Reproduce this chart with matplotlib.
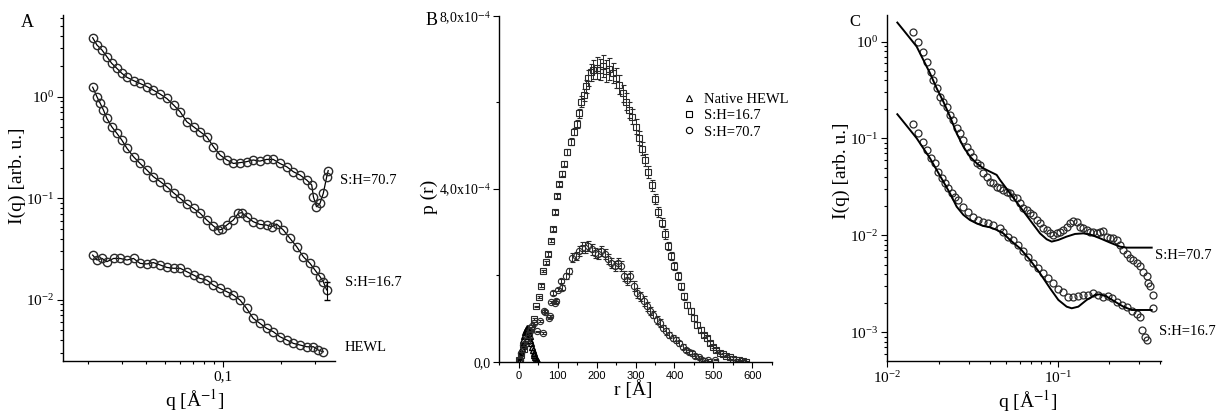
import numpy as np
import matplotlib
matplotlib.use('Agg')
import matplotlib.pyplot as plt
from matplotlib.ticker import (FixedLocator, FixedFormatter, LogLocator,
                               NullFormatter, MultipleLocator)
from matplotlib.lines import Line2D

plt.rcParams['font.family'] = ['Liberation Serif', 'DejaVu Serif']
plt.rcParams['mathtext.fontset'] = 'stix'

# ---- panel A : SAXS curves (q in 1/A, I in arb. u.)
qa_707 = [0.0211, 0.0222, 0.0236, 0.0250, 0.0265, 0.0282, 0.0299, 0.0318, 0.0344, 0.0372,
          0.0403, 0.0436, 0.0473, 0.0512, 0.0555, 0.0601, 0.0650, 0.0705, 0.0763, 0.0826,
          0.0895, 0.0969, 0.105, 0.1136, 0.123, 0.133, 0.144, 0.156, 0.169, 0.183,
          0.198, 0.215, 0.233, 0.252, 0.273, 0.290, 0.296, 0.307, 0.320, 0.333, 0.347, 0.353]
ia_707 = [3.81, 3.23, 2.88, 2.48, 2.13, 1.90, 1.70, 1.55, 1.44, 1.35,
          1.26, 1.16, 1.06, 0.96, 0.83, 0.71, 0.567, 0.506, 0.452, 0.403,
          0.322, 0.266, 0.238, 0.220, 0.224, 0.229, 0.238, 0.232, 0.241, 0.241,
          0.220, 0.204, 0.182, 0.169, 0.151, 0.135, 0.103, 0.0824, 0.0889, 0.1116, 0.163, 0.187]

qa_167 = [0.0211, 0.0222, 0.0231, 0.0240, 0.0250, 0.0265, 0.0282, 0.0299, 0.0318, 0.0344,
          0.0372, 0.0403, 0.0436, 0.0473, 0.0512, 0.0555, 0.0601, 0.0650, 0.0705, 0.0763,
          0.0826, 0.0895, 0.0950, 0.0988, 0.105, 0.1136, 0.1206, 0.1255, 0.133, 0.144,
          0.156, 0.169, 0.1796, 0.1906, 0.2065, 0.2236, 0.2422, 0.2623, 0.2841, 0.3015,
          0.3200, 0.3331, 0.3466]
ia_167 = [1.24, 1.00, 0.86, 0.739, 0.612, 0.506, 0.435, 0.374, 0.310, 0.256,
          0.220, 0.190, 0.163, 0.146, 0.130, 0.113, 0.0996, 0.0877, 0.0794, 0.0710,
          0.0610, 0.0532, 0.0486, 0.0493, 0.0544, 0.0610, 0.0710, 0.0720, 0.0658, 0.0587,
          0.0552, 0.0544, 0.0524, 0.0556, 0.0486, 0.0402, 0.0333, 0.0265, 0.0228, 0.0196,
          0.0169, 0.0150, 0.0125]
ia_167_last_err = 0.0025

qa_hewl = [0.0211, 0.0222, 0.0236, 0.0250, 0.0271, 0.0293, 0.0318, 0.0344, 0.0372, 0.0403,
           0.0436, 0.0473, 0.0512, 0.0555, 0.0601, 0.0650, 0.0705, 0.0763, 0.0826, 0.0895,
           0.0969, 0.105, 0.1136, 0.123, 0.133, 0.144, 0.156, 0.169, 0.183, 0.198,
           0.215, 0.233, 0.252, 0.273, 0.296, 0.314, 0.333]
ia_hewl = [0.0275, 0.0246, 0.0255, 0.0237, 0.0255, 0.0255, 0.0246, 0.0255, 0.0228, 0.0225,
           0.0232, 0.0220, 0.0208, 0.0204, 0.0204, 0.0189, 0.0175, 0.0162, 0.0156, 0.0139,
           0.0129, 0.0120, 0.0111, 0.00993, 0.00822, 0.00655, 0.00585, 0.00522, 0.00484, 0.00432,
           0.00401, 0.00371, 0.00358, 0.00344, 0.00344, 0.00319, 0.00307]

# ---- panel B : p(r), values in units of 1e-4 (squares, circles) and 1e-5 (triangles)
tri_r = [0, 2, 4, 6, 8, 10, 12, 14, 16, 18, 20, 22, 24, 26, 28, 30, 32, 34, 36, 38,
         40, 42, 44, 46, 48, 50]
tri_p = [0.0, 0.6, 1.4, 2.3, 3.2, 4.2, 5.1, 6.0, 6.8, 7.4, 7.7, 7.6, 7.2, 6.6, 5.9, 5.1,
         4.3, 3.5, 2.8, 2.1, 1.5, 1.0, 0.6, 0.3, 0.1, 0.0]

sq_r = [0, 7, 13, 20, 26, 32, 38, 45, 51, 58, 62, 69, 75, 83, 88, 92, 98, 104, 110, 117,
        125, 133, 142, 150, 154, 161, 167, 173, 179, 186, 192, 200, 208, 217, 225, 233, 242, 250,
        258, 267, 275, 283, 292, 300, 308, 317, 325, 333, 342, 350, 358, 367, 375, 383, 392, 400,
        408, 417, 425, 433, 442, 450, 458, 467, 475, 483, 492, 500, 508, 517, 525, 533, 542, 550,
        558, 567, 575, 583]
sq_p = [0.05, 0.15, 0.30, 0.48, 0.62, 0.78, 0.99, 1.28, 1.50, 1.76,
        2.10, 2.30, 2.49, 2.80, 3.07, 3.46, 3.83, 4.12, 4.35, 4.58,
        4.85, 5.09, 5.32, 5.51, 5.75, 6.02, 6.17, 6.37, 6.56, 6.70,
        6.76, 6.80, 6.76, 6.84, 6.73, 6.78, 6.68, 6.56, 6.41, 6.21,
        6.02, 5.83, 5.67, 5.44, 5.17, 4.93, 4.66, 4.39, 4.08, 3.77,
        3.46, 3.22, 2.95, 2.68, 2.45, 2.21, 1.98, 1.75, 1.51, 1.32,
        1.17, 1.01, 0.85, 0.74, 0.62, 0.54, 0.43, 0.35, 0.27, 0.21,
        0.17, 0.13, 0.10, 0.07, 0.047, 0.03, 0.015, 0.0]
sq_err = [0.01, 0.01, 0.01, 0.01, 0.02, 0.02, 0.02, 0.02, 0.03, 0.03,
          0.03, 0.03, 0.04, 0.04, 0.04, 0.05, 0.05, 0.05, 0.06, 0.06,
          0.07, 0.08, 0.08, 0.09, 0.10, 0.12, 0.14, 0.15, 0.18, 0.20,
          0.22, 0.25, 0.25, 0.26, 0.25, 0.25, 0.24, 0.23, 0.22, 0.20,
          0.20, 0.19, 0.18, 0.17, 0.16, 0.15, 0.14, 0.14, 0.13, 0.12,
          0.12, 0.11, 0.11, 0.10, 0.10, 0.09, 0.09, 0.08, 0.08, 0.07,
          0.07, 0.06, 0.06, 0.06, 0.05, 0.05, 0.05, 0.04, 0.04, 0.04,
          0.03, 0.03, 0.03, 0.03, 0.02, 0.02, 0.02, 0.01]

ci_r = [2, 6, 12, 20, 28, 34, 40, 47, 55, 61, 64, 68, 77, 81, 83, 89, 92, 96, 102, 108,
        112, 121, 129, 137, 146, 154, 162, 171, 179, 187, 196, 204, 212, 221, 229, 237, 246, 254,
        262, 271, 279, 287, 296, 304, 312, 321, 329, 337, 346, 354, 362, 371, 379, 387, 396, 404,
        412, 421, 429, 437, 446, 454, 462, 471, 479, 487, 504]
ci_p = [0.04, 0.19, 0.39, 0.56, 0.72, 0.82, 0.90, 0.70, 0.95, 0.66,
        1.17, 1.16, 1.01, 1.05, 1.38, 1.59, 1.37, 1.40, 1.67, 1.86,
        1.71, 1.98, 2.10, 2.41, 2.45, 2.56, 2.64, 2.64, 2.68, 2.60,
        2.52, 2.49, 2.56, 2.49, 2.37, 2.29, 2.21, 2.29, 2.21, 1.98,
        1.90, 1.98, 1.75, 1.59, 1.51, 1.40, 1.28, 1.17, 1.09, 0.97,
        0.89, 0.78, 0.70, 0.62, 0.54, 0.50, 0.43, 0.35, 0.27, 0.23,
        0.19, 0.13, 0.10, 0.05, 0.02, 0.04, 0.05]
ci_err = [0.01, 0.01, 0.01, 0.01, 0.01, 0.02, 0.02, 0.02, 0.02, 0.02,
          0.03, 0.03, 0.03, 0.03, 0.03, 0.04, 0.04, 0.04, 0.04, 0.05,
          0.06, 0.07, 0.08, 0.10, 0.10, 0.11, 0.12, 0.12, 0.12, 0.12,
          0.12, 0.12, 0.12, 0.12, 0.12, 0.12, 0.12, 0.12, 0.12, 0.12,
          0.12, 0.12, 0.12, 0.12, 0.11, 0.11, 0.10, 0.10, 0.09, 0.09,
          0.09, 0.08, 0.08, 0.07, 0.07, 0.07, 0.06, 0.06, 0.05, 0.05,
          0.05, 0.04, 0.04, 0.03, 0.03, 0.02, 0.02]

legend_labels = ['Native HEWL', 'S:H=16.7', 'S:H=70.7']

# ---- panel C : data + model fits
qc_707 = [0.01421, 0.01521, 0.01612, 0.01702, 0.01805, 0.01862, 0.01948, 0.02038, 0.02132, 0.02230,
          0.02333, 0.02441, 0.02553, 0.02671, 0.02794, 0.02923, 0.03057, 0.03198, 0.03345, 0.03499,
          0.03660, 0.03829, 0.04005, 0.04190, 0.04383, 0.04585, 0.04797, 0.05018, 0.05249, 0.05491,
          0.05744, 0.06009, 0.06286, 0.06577, 0.06880, 0.07197, 0.07529, 0.07876, 0.08240, 0.08619,
          0.09017, 0.09432, 0.09865, 0.1032, 0.1080, 0.1129, 0.1181, 0.1236, 0.1292, 0.1352,
          0.1415, 0.1480, 0.1548, 0.1619, 0.1694, 0.1772, 0.1854, 0.1940, 0.2029, 0.2122,
          0.2220, 0.2323, 0.2430, 0.2542, 0.2659, 0.2781, 0.2910, 0.3044, 0.3184, 0.3331,
          0.3407, 0.3485, 0.3613, 0.3645]
ic_707 = [1.248, 0.984, 0.776, 0.612, 0.490, 0.402, 0.330, 0.2706, 0.2403, 0.2134,
          0.1750, 0.1554, 0.1275, 0.1132, 0.0966, 0.0825, 0.0732, 0.0650, 0.0555, 0.0534,
          0.0438, 0.0404, 0.0359, 0.0345, 0.0319, 0.0306, 0.0294, 0.0283, 0.0272, 0.0251,
          0.0242, 0.0215, 0.0191, 0.0183, 0.0169, 0.0163, 0.0144, 0.0133, 0.0118, 0.0114,
          0.0105, 0.0101, 0.0105, 0.01094, 0.0114, 0.0123, 0.0133, 0.0142, 0.0139, 0.0123,
          0.0118, 0.0114, 0.0109, 0.0109, 0.0105, 0.0109, 0.0112, 0.0097, 0.0093, 0.0093,
          0.0090, 0.0080, 0.0071, 0.0065, 0.0058, 0.0056, 0.0052, 0.0048, 0.0042, 0.0038,
          0.0032, 0.0030, 0.0024, 0.0018]

qc_167 = [0.01421, 0.01521, 0.01612, 0.01702, 0.01805, 0.01905, 0.01993, 0.02084, 0.02181, 0.02281,
          0.02386, 0.02497, 0.02611, 0.02794, 0.02989, 0.03198, 0.03421, 0.03660, 0.03917, 0.04190,
          0.04585, 0.04797, 0.05132, 0.05491, 0.05875, 0.06286, 0.06726, 0.07197, 0.07700, 0.08240,
          0.08815, 0.09432, 0.1009, 0.1080, 0.1155, 0.1236, 0.1322, 0.1415, 0.1514, 0.1619,
          0.1733, 0.1854, 0.1984, 0.2075, 0.2220, 0.2376, 0.2542, 0.2720, 0.2910, 0.3044,
          0.3113, 0.3257, 0.3331]
ic_167 = [0.1414, 0.1132, 0.0929, 0.0762, 0.0625, 0.0555, 0.0455, 0.0389, 0.0345, 0.0306,
          0.0272, 0.0251, 0.0232, 0.0198, 0.0176, 0.0156, 0.0144, 0.0139, 0.0133, 0.0128,
          0.01184, 0.01094, 0.00972, 0.00898, 0.00797, 0.00691, 0.00604, 0.00516, 0.00458, 0.00407,
          0.00361, 0.00321, 0.00279, 0.00258, 0.00234, 0.00234, 0.00235, 0.00241, 0.00245, 0.00253,
          0.00243, 0.00234, 0.00238, 0.00224, 0.00207, 0.00192, 0.00181, 0.00167, 0.00155, 0.00143,
          0.00106, 0.000903, 0.000834]

qfit_707 = [0.01145, 0.01241, 0.01359, 0.01487, 0.01627, 0.01781, 0.01948, 0.02132, 0.02333, 0.02553,
            0.02794, 0.03057, 0.03345, 0.03660, 0.04005, 0.04383, 0.04585, 0.05249, 0.06009, 0.06880,
            0.07876, 0.08619, 0.09222, 0.1009, 0.1129, 0.1264, 0.1415, 0.1583, 0.1772, 0.2029,
            0.2323, 0.2542, 0.3564]
ifit_707 = [1.571, 1.320, 1.082, 0.888, 0.647, 0.471, 0.330, 0.2403, 0.1683, 0.1132,
            0.0825, 0.0650, 0.0555, 0.0493, 0.0455, 0.0421, 0.0374, 0.0272, 0.0198, 0.0144,
            0.0105, 0.00912, 0.00863, 0.00898, 0.00972, 0.01035, 0.0105, 0.0101, 0.00934, 0.00843,
            0.00766, 0.00748, 0.00748]

qfit_167 = [0.01145, 0.01241, 0.01359, 0.01487, 0.01627, 0.01781, 0.01948, 0.02132, 0.02333, 0.02553,
            0.02794, 0.03057, 0.03345, 0.03660, 0.04005, 0.04383, 0.04797, 0.05249, 0.06009, 0.06880,
            0.07876, 0.09017, 0.1009, 0.1129, 0.1209, 0.1322, 0.1480, 0.1657, 0.1772, 0.1940,
            0.2170, 0.2430, 0.2720, 0.3564]
ifit_167 = [0.1779, 0.1494, 0.1226, 0.1006, 0.0793, 0.0625, 0.0474, 0.0359, 0.0272, 0.0198,
            0.0163, 0.0144, 0.0133, 0.01252, 0.01213, 0.0114, 0.0105, 0.00898, 0.00736, 0.00558,
            0.00407, 0.00285, 0.00216, 0.00184, 0.00177, 0.00184, 0.00216, 0.00243, 0.00247, 0.00234,
            0.00207, 0.00184, 0.00170, 0.00170]


def style(ax):
    for s in ['top', 'right']:
        ax.spines[s].set_visible(False)
    for s in ['left', 'bottom']:
        ax.spines[s].set_linewidth(1.0)
    ax.tick_params(which='both', direction='out', width=0.8)
    ax.tick_params(which='major', length=4, labelsize=11, pad=2.5)
    ax.tick_params(which='minor', length=2.2)


def log_minor(ax):
    ax.xaxis.set_minor_locator(LogLocator(base=10, subs=np.arange(2, 10), numticks=20))
    ax.yaxis.set_minor_locator(LogLocator(base=10, subs=np.arange(2, 10), numticks=20))
    ax.xaxis.set_minor_formatter(NullFormatter())
    ax.yaxis.set_minor_formatter(NullFormatter())


fig = plt.figure(figsize=(12.19, 4.13), dpi=100)
axA = fig.add_axes([0.0517, 0.1259, 0.2231, 0.8378])
axB = fig.add_axes([0.4096, 0.1242, 0.2235, 0.8370])
axC = fig.add_axes([0.7279, 0.1259, 0.2245, 0.8378])

# ---------------- A
mk = dict(marker='o', ms=6, mfc='none', mec='#2a2a2a', mew=1.0, color='k', lw=0.9)
axA.plot(qa_707, ia_707, **mk)
axA.plot(qa_167, ia_167, **mk)
axA.plot(qa_hewl, ia_hewl, **mk)
axA.errorbar(qa_167[-1], ia_167[-1], yerr=ia_167_last_err, fmt='none', ecolor='k',
             elinewidth=0.8, capsize=2)
axA.set_xscale('log')
axA.set_yscale('log')
axA.set_xlim(0.0148, 0.383)
axA.set_ylim(0.00249, 6.38)
style(axA)
log_minor(axA)
axA.xaxis.set_major_locator(FixedLocator([0.1]))
axA.xaxis.set_major_formatter(FixedFormatter(['0,1']))
axA.yaxis.set_major_locator(LogLocator(base=10, numticks=10))
axA.set_xlabel(r'q [Å$^{-1}$]', fontsize=14)
axA.set_ylabel('I(q) [arb. u.]', fontsize=14)
axA.xaxis.set_label_coords(0.485, -0.075)
axA.yaxis.set_label_coords(-0.135, 0.535)
axA.text(-0.13, 0.977, 'A', transform=axA.transAxes, fontsize=13, ha='center', va='center')
axA.text(1.018, 0.523, 'S:H=70.7', transform=axA.transAxes, fontsize=10.5, va='center')
axA.text(1.037, 0.228, 'S:H=16.7', transform=axA.transAxes, fontsize=10.5, va='center')
axA.text(1.037, 0.040, 'HEWL', transform=axA.transAxes, fontsize=10.5, va='center')

# ---------------- B
eb = dict(mfc='none', mec='#2a2a2a', mew=0.8, ecolor='#2a2a2a', elinewidth=0.7, capsize=1.8,
          capthick=0.7, ls='none')
axB.errorbar(sq_r, np.array(sq_p) * 1e-4, yerr=np.array(sq_err) * 1e-4, fmt='s', ms=4, **eb)
axB.errorbar(ci_r, np.array(ci_p) * 1e-4, yerr=np.array(ci_err) * 1e-4, fmt='o', ms=4.5, **eb)
axB.plot(tri_r, np.array(tri_p) * 1e-5, ls='none', marker='^', ms=5, mfc='none', mec='k', mew=1.0)
axB.set_xlim(-50, 650)
axB.set_ylim(0, 8e-4)
style(axB)
axB.xaxis.set_major_locator(MultipleLocator(100))
axB.xaxis.set_minor_locator(MultipleLocator(50))
axB.yaxis.set_major_locator(FixedLocator([0, 4e-4, 8e-4]))
axB.yaxis.set_major_formatter(FixedFormatter(['0,0', r'4,0x10$^{-4}$', r'8,0x10$^{-4}$']))
axB.yaxis.set_minor_locator(FixedLocator([2e-4, 6e-4]))
axB.tick_params(axis='y', which='major', labelsize=10, pad=2)
axB.tick_params(axis='x', which='major', labelsize=8, labelfontfamily='Liberation Sans')
axB.set_xlabel('r [Å]', fontsize=14)
axB.set_ylabel('p (r)', fontsize=14)
axB.xaxis.set_label_coords(0.49, -0.053)
axB.yaxis.set_label_coords(-0.225, 0.476)
axB.text(-0.25, 0.988, 'B', transform=axB.transAxes, fontsize=13, ha='center', va='center')
handles = [Line2D([], [], ls='none', marker='^', ms=4.5, mfc='none', mec='k', mew=0.8),
           Line2D([], [], ls='none', marker='s', ms=4, mfc='none', mec='k', mew=0.8),
           Line2D([], [], ls='none', marker='o', ms=4.5, mfc='none', mec='k', mew=0.8)]
axB.legend(handles, legend_labels, loc='upper left', bbox_to_anchor=(0.67, 0.777),
           frameon=False, fontsize=10.5, handletextpad=0.5, labelspacing=0.2,
           handlelength=1.0, borderaxespad=0, borderpad=0)

# ---------------- C
axC.plot(qc_707, ic_707, ls='none', marker='o', ms=5, mfc='none', mec='#2a2a2a', mew=0.9)
axC.plot(qc_167, ic_167, ls='none', marker='o', ms=5, mfc='none', mec='#2a2a2a', mew=0.9)
axC.plot(qfit_707, ifit_707, color='k', lw=1.4)
axC.plot(qfit_167, ifit_167, color='k', lw=1.4)
axC.set_xscale('log')
axC.set_yscale('log')
axC.set_xlim(0.01, 0.404)
axC.set_ylim(5.06e-4, 1.88)
style(axC)
log_minor(axC)
axC.xaxis.set_major_locator(LogLocator(base=10, numticks=10))
axC.yaxis.set_major_locator(LogLocator(base=10, numticks=10))
axC.set_xlabel(r'q [Å$^{-1}$]', fontsize=14)
axC.set_ylabel('I(q) [arb. u.]', fontsize=14)
axC.xaxis.set_label_coords(0.514, -0.078)
axC.yaxis.set_label_coords(-0.135, 0.549)
axC.text(-0.118, 0.98, 'C', transform=axC.transAxes, fontsize=12, ha='center', va='center')
axC.text(0.978, 0.306, 'S:H=70.7', transform=axC.transAxes, fontsize=10.5, va='center')
axC.text(0.994, 0.084, 'S:H=16.7', transform=axC.transAxes, fontsize=10.5, va='center')

fig.savefig('out.png', dpi=100)
